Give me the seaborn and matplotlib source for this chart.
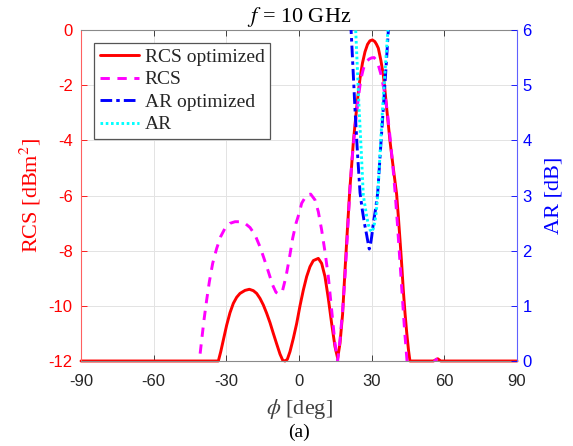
import numpy as np
import pandas as pd
import matplotlib
matplotlib.use("Agg")
import matplotlib.pyplot as plt
import seaborn as sns
from matplotlib.ticker import FuncFormatter

# ---------------- data ----------------
phi_rcs_opt = [-90, -33.3, -32.3, -31.24, -29.86, -28.49, -27.11, -25.73, -24.36, -22.29,
               -20.5, -18.85, -17.48, -16.1, -14.72, -13.35, -11.97, -10.6, -9.22, -7.84,
               -6.74, -5.78, -4.82, -3.72, -2.34, -0.96, 0.41, 1.78, 3.16, 4.54, 5.91, 7.98,
               9.35, 10.73, 12.1, 13.48, 14.86, 15.96, 16.92, 18.0, 19.0, 20.0, 21.0, 21.75,
               22.4, 23.1, 23.8, 24.5, 25.2, 26.2, 27.25, 28.3, 29.3, 30.3, 31.3, 32.0, 32.75,
               33.8, 34.8, 35.5, 36.2, 36.9, 37.6, 38.5, 39.35, 40.3, 41.0, 41.7, 42.4, 43.06,
               43.8, 44.5, 45.2, 45.8, 55.5, 57.3, 58.5, 90]
rcs_opt = [-12.0, -12.0, -11.66, -11.24, -10.7, -10.25, -9.91, -9.69, -9.55, -9.44,
           -9.4, -9.45, -9.55, -9.73, -9.97, -10.27, -10.61, -11.0, -11.38, -11.75,
           -11.97, -12.0, -11.94, -11.66, -11.18, -10.64, -10.0, -9.43, -8.94, -8.58,
           -8.36, -8.28, -8.46, -8.94, -9.73, -10.64, -11.48, -11.9, -11.36, -10.3, -8.7,
           -7.2, -5.75, -4.9, -4.1, -3.45, -2.84, -2.25, -1.75, -1.2, -0.79, -0.52, -0.39,
           -0.36, -0.42, -0.52, -0.66, -1.1, -1.63, -2.2, -2.84, -3.45, -4.05, -4.7, -5.3,
           -5.95, -6.75, -7.61, -8.5, -9.43, -10.3, -11.0, -11.6, -12.0, -12.0, -11.92,
           -12.0, -12.0]

phi_rcs = [-90, -41.6, -41.15, -40.18, -39.22, -38.12, -37.02, -35.64, -33.99, -32.34,
           -30.55, -28.49, -26.42, -24.36, -22.29, -20.23, -18.16, -16.1, -14.45, -12.66,
           -10.87, -9.5, -8.12, -6.74, -5.37, -3.99, -2.61, -1.24, 0.14, 1.1, 3.16, 4.81,
           6.6, 7.98, 9.35, 10.73, 12.1, 13.48, 14.86, 15.96, 16.92, 18.02, 18.99, 19.95,
           21.05, 21.7, 22.4, 23.1, 23.8, 24.5, 25.2, 25.9, 26.6, 27.3, 28.0, 29.0, 30.0,
           31.0, 32.0, 33.0, 33.8, 34.5, 35.5, 36.5, 37.6, 38.6, 39.6, 40.6, 41.6, 42.6,
           43.6, 44.6, 45.0, 55.6, 56.0, 57.8, 58.8, 59.2, 90]
rcs = [-13, -13, -11.99, -11.24, -10.51, -9.79, -9.13, -8.46, -7.92, -7.49, -7.19, -7.01,
       -6.95, -6.95, -7.01, -7.16, -7.43, -7.86, -8.28, -8.76, -9.25, -9.51, -9.58, -9.43,
       -8.94, -8.28, -7.55, -7.01, -6.62, -6.28, -5.98, -5.95, -6.16, -6.59, -7.25, -8.04,
       -8.94, -10.15, -11.36, -11.99, -11.24, -10.15, -8.94, -7.49, -5.75, -4.9, -4.2,
       -3.55, -3.0, -2.45, -2.0, -1.65, -1.4, -1.25, -1.13, -1.05, -1.01, -1.0, -1.1,
       -1.35, -1.6, -1.9, -2.35, -3.0, -3.9, -4.8, -5.8, -7.0, -8.3, -9.6, -10.9, -12.0,
       -13, -13, -12.0, -11.85, -12.0, -13, -13]

phi_ar_opt = [20.8, 21.5, 22.3, 23.1, 24.1, 25.2, 26.1, 27.0, 28.0, 28.6, 29.0, 29.4,
              30.0, 30.7, 31.6, 32.5, 33.6, 34.8, 35.9, 36.9, 37.5]
ar_opt = [6.7, 6.0, 5.3, 4.58, 3.8, 3.05, 2.75, 2.5, 2.27, 2.12, 2.03, 2.08, 2.25, 2.5,
          2.75, 3.05, 3.8, 4.58, 5.3, 6.0, 6.5]

phi_ar = [22.9, 23.4, 24.1, 24.8, 25.7, 26.55, 27.3, 27.95, 28.6, 29.3, 30.0, 30.7, 31.2,
          31.7, 32.1, 32.5, 33.5, 34.5, 35.6, 36.7, 37.2]
ar = [6.6, 6.0, 5.3, 4.58, 3.8, 3.0, 2.8, 2.62, 2.48, 2.38, 2.34, 2.4, 2.5, 2.62, 2.8,
      3.0, 3.8, 4.58, 5.3, 6.0, 6.5]

x_ticks = [-90, -60, -30, 0, 30, 60, 90]
rcs_ticks = [0, -2, -4, -6, -8, -10, -12]
ar_ticks = [0, 1, 2, 3, 4, 5, 6]

labels = ["RCS optimized", "RCS", "AR optimized", "AR"]

# ---------------- style ----------------
sns.set_style("white")
plt.rcParams["font.family"] = ["Liberation Sans", "DejaVu Sans"]
plt.rcParams["mathtext.fontset"] = "stix"
plt.rcParams["axes.unicode_minus"] = False
SERIF = ["Liberation Serif", "DejaVu Serif"]
AXC = "#262626"

fig = plt.figure(figsize=(5.73, 4.46), dpi=100)
ax = fig.add_axes([81 / 573, 85 / 446, 436 / 573, 331 / 446])
ax2 = ax.twinx()

df1 = pd.DataFrame({"phi": phi_rcs_opt, "v": rcs_opt})
df2 = pd.DataFrame({"phi": phi_rcs, "v": rcs})
df3 = pd.DataFrame({"phi": phi_ar_opt, "v": ar_opt})
df4 = pd.DataFrame({"phi": phi_ar, "v": ar})

sns.lineplot(data=df1, x="phi", y="v", ax=ax, sort=False, estimator=None, color="#ff0000",
             lw=2.1, label=labels[0], clip_on=False, zorder=2.1)
sns.lineplot(data=df2, x="phi", y="v", ax=ax, sort=False, estimator=None, color="#ff00ff",
             lw=2.1, linestyle=(0, (3.2, 2.6)), label=labels[1], zorder=2.2)
sns.lineplot(data=df3, x="phi", y="v", ax=ax2, sort=False, estimator=None, color="#0000ff",
             lw=2.1, linestyle=(0, (4, 1.4, 1.2, 1.4)), label=labels[2], zorder=2.3)
sns.lineplot(data=df4, x="phi", y="v", ax=ax2, sort=False, estimator=None, color="#00ffff",
             lw=2.1, linestyle=(0, (0.9, 0.9)), label=labels[3], zorder=2.4)

for a in (ax, ax2):
    if a.get_legend() is not None:
        a.get_legend().remove()

ax.set_xlim(-90, 90)
ax.set_ylim(-12, 0)
ax2.set_ylim(0, 6)
ax.set_xticks(x_ticks)
ax.set_yticks(rcs_ticks)
ax2.set_yticks(ar_ticks)
fmt = FuncFormatter(lambda v, p: f"{v:g}".replace("\u2212", "-"))
ax.xaxis.set_major_formatter(fmt)
ax.yaxis.set_major_formatter(fmt)
ax2.yaxis.set_major_formatter(fmt)

ax.grid(True, color="#e3e3e3", lw=0.7)
ax.set_axisbelow(True)
ax2.grid(False)

ax.tick_params(axis="x", direction="in", length=4, width=0.6, top=True, bottom=True,
               colors=AXC, labelsize=12, pad=9.5)
ax.tick_params(axis="y", direction="in", length=4, width=0.6, left=True, right=False,
               colors="#ff0000", labelsize=12, pad=6)
ax2.tick_params(axis="y", direction="in", length=4, width=0.6, right=True, left=False,
                colors="#0000ff", labelsize=12, pad=4)

for s in ("top", "bottom"):
    ax.spines[s].set_color("#8a8a8a")
    ax.spines[s].set_linewidth(0.8)
ax.spines["left"].set_color("#ff6060")
ax.spines["left"].set_linewidth(0.8)
ax.spines["right"].set_visible(False)
for s in ("top", "bottom", "left"):
    ax2.spines[s].set_visible(False)
ax2.spines["right"].set_color("#6060ff")
ax2.spines["right"].set_linewidth(0.8)

ax.set_xlabel(r"$\phi$ [deg]", fontsize=16, family=SERIF, color="#404040")
ax.xaxis.set_label_coords(0.5, -0.108)
ax.set_ylabel(r"RCS [dBm$^2$]", fontsize=16, family=SERIF, color="#ff0000")
ax.yaxis.set_label_coords(-0.087, 0.5)
ax2.set_ylabel("AR [dB]", fontsize=16, family=SERIF, color="#0000ff")
ax2.yaxis.set_label_coords(1.063, 0.5)
ax.set_title(r"$f$ = 10 GHz", fontsize=16, family=SERIF, color="black", pad=6)

h1, l1 = ax.get_legend_handles_labels()
h2, l2 = ax2.get_legend_handles_labels()
leg = ax2.legend(h1 + h2, l1 + l2, loc="upper left", bbox_to_anchor=(0.03, 0.962),
                 borderaxespad=0, prop={"family": SERIF, "size": 14}, frameon=True,
                 fancybox=False, framealpha=1, edgecolor="#555555", handlelength=2.0,
                 handletextpad=0.3, labelspacing=0.25, borderpad=0.3)
leg.get_frame().set_linewidth(0.9)

fig.text(299 / 573, 1 - 432 / 446, "(a)", ha="center", va="center", fontsize=14,
         family=SERIF, color="black")

fig.savefig("out.png", dpi=100)
